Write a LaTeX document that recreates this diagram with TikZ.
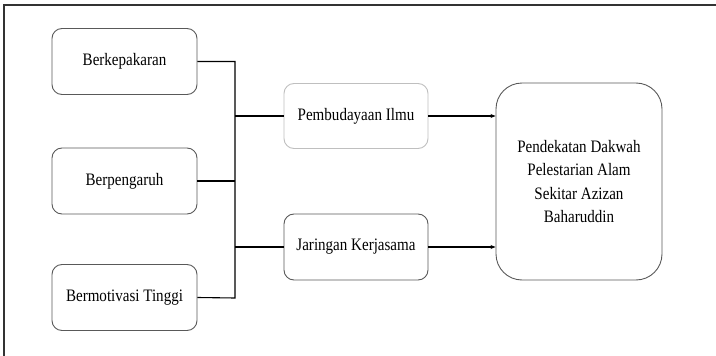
\documentclass[tikz,border=0pt]{standalone}
\usepackage{fontspec}
\setmainfont{Liberation Serif}[FakeStretch=0.86]
\usetikzlibrary{arrows.meta}
\begin{document}
\begin{tikzpicture}[x=1pt,y=-1pt,
  box/.style={draw=black!65,line width=0.9pt,rounded corners=10pt,minimum width=145pt,minimum height=66pt,inner sep=0pt,align=center,font=\fontsize{17.5}{23.5}\selectfont},
  lightbox/.style={box,draw=black!25},
  bigbox/.style={box,rounded corners=26pt,minimum width=166pt,minimum height=197pt},
  conn/.style={line width=1.1pt,black},
  arr/.style={conn,-{Stealth[length=5pt,width=4pt]}}]
\useasboundingbox (0,0) rectangle (716,356);
\draw[line width=1.3pt,black!80] (4,356) -- (4,5) -- (716,5);
\node[box] (b1) at (124.5,61.5) {Berkepakaran};
\node[box] (b2) at (124.5,181) {Berpengaruh};
\node[box] (b3) at (124.5,297.5) {Bermotivasi Tinggi};
\node[lightbox,minimum width=144pt,minimum height=65pt] (pb) at (356,116) {Pembudayaan Ilmu};
\node[box,minimum width=144pt] (jr) at (356,247) {Jaringan Kerjasama};
\node[bigbox] (rt) at (579,181.5) {Pendekatan Dakwah\\Pelestarian Alam\\Sekitar Azizan\\Baharuddin};
\coordinate (bt) at (235,61);
\coordinate (bb) at (235,298);
\draw[conn] (b1.east) -| (bb) -- (b3.east);
\draw[conn] (b2.east) -- (b2.east -| bt);
\draw[conn] (pb.west) -- (pb.west -| bt);
\draw[conn] (jr.west) -- (jr.west -| bt);
\draw[arr] (pb.east) -- (pb.east -| rt.west);
\draw[arr] (jr.east) -- (jr.east -| rt.west);
\end{tikzpicture}
\end{document}
